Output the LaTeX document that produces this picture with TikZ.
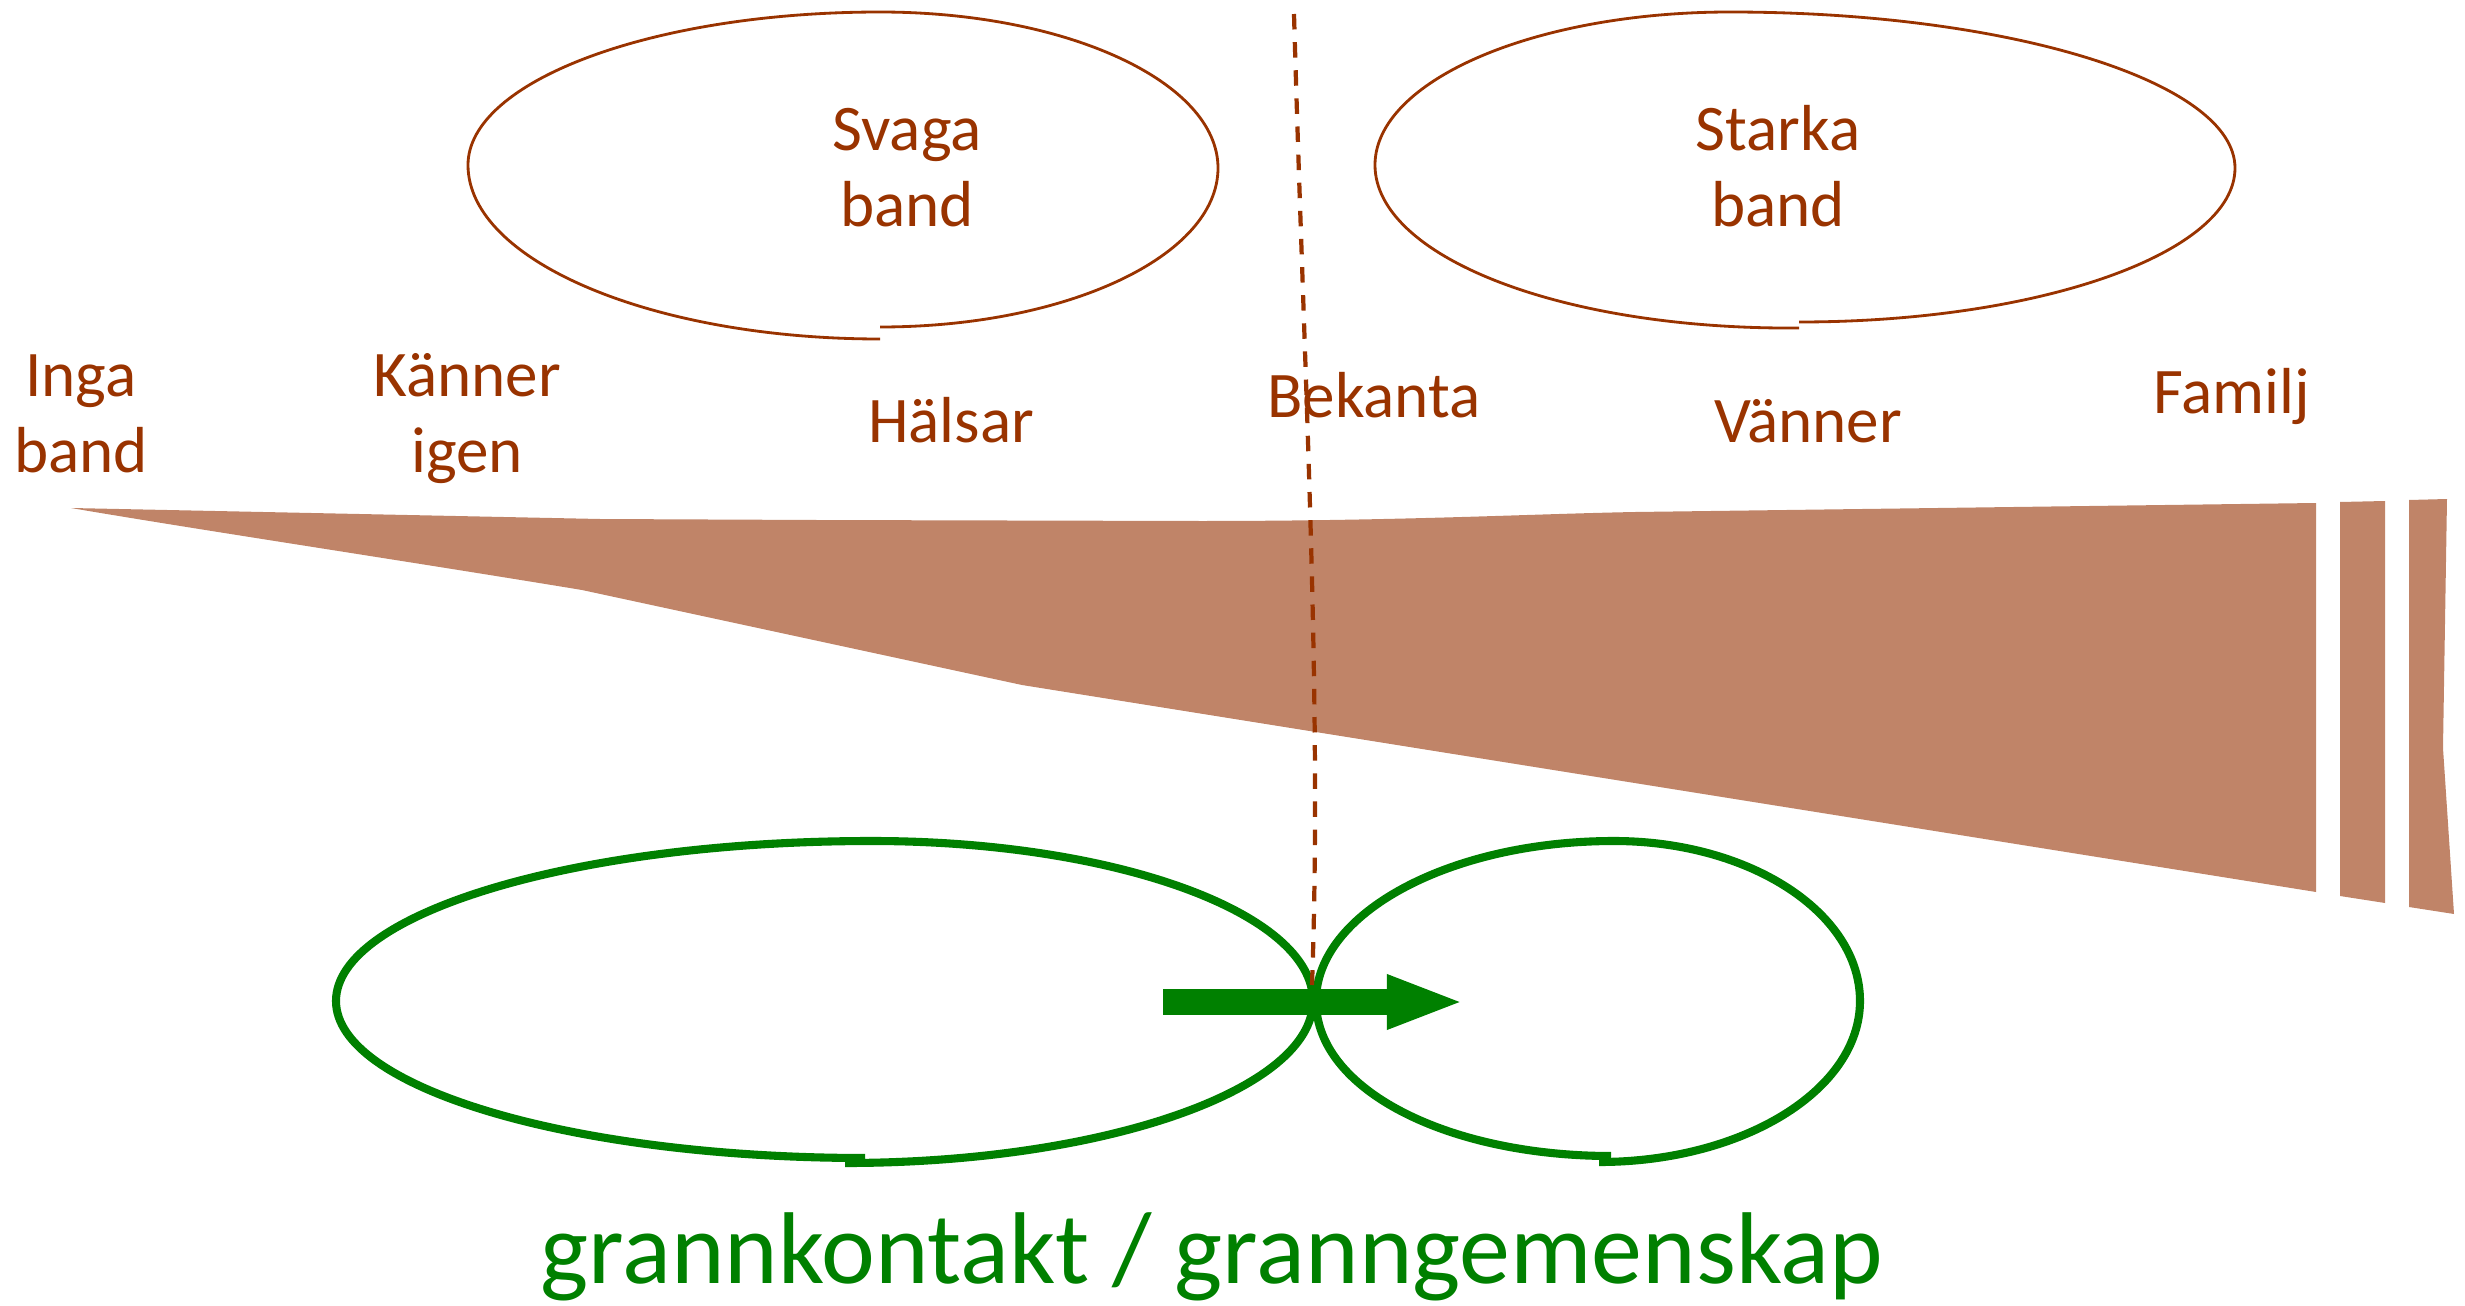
\documentclass[tikz,border=0pt]{standalone}
\usepackage{fontspec}
\setmainfont{Carlito}
\usetikzlibrary{arrows.meta}

\definecolor{bandbrown}{HTML}{993300}
\definecolor{wedgebrown}{HTML}{C08468}
\definecolor{grangreen}{HTML}{008000}

\tikzset{
  tielabel/.style={text=bandbrown,font=\fontsize{18.5}{21.5}\selectfont,
    align=center,anchor=base,inner sep=0pt},
  tiering/.style={draw=bandbrown,line width=0.8pt},
  greenring/.style={draw=grangreen,line width=2.3pt},
}

\begin{document}
\begin{tikzpicture}
\begin{scope}[x=0.01cm,y=-0.01cm]
\useasboundingbox (0,0) rectangle (2465,1306);

% the wedge and the family bars
\path[fill=wedgebrown]%
(71,508)--(600,519)--(817,520)--(1200,521)
.. controls (1400,521) and (1530,514) .. (1635,512)--(2316,503)
--(2316,892)--(1022,685)--(582,590)
.. controls (400,560) and (200,530) .. (71,508)--cycle;
\path[fill=wedgebrown]%
(2340,502)--(2385,501)--(2385,903)--(2340,896)--cycle;
\path[fill=wedgebrown]%
(2409,500)--(2447,499)--(2443,748)--(2454,914)--(2409,907)--cycle;

% weak and strong ties
\path[tiering]%
(880,327) .. controls (1067,327) and (1218,256) .. (1218,168)
.. controls (1218,82) and (1067,12) .. (880,12)
.. controls (653,12) and (468,81) .. (468,165)
.. controls (468,261) and (653,339) .. (880,339);
\path[tiering]%
(1799,322) .. controls (2040,322) and (2235,253) .. (2235,168)
.. controls (2235,82) and (2009,12) .. (1730,12)
.. controls (1534,12) and (1375,81) .. (1375,165)
.. controls (1375,256) and (1560,330) .. (1799,328);

% two-line labels sit on the baseline of their last line
\node[tielabel] (svaga)   at (907,226)  {Svaga\\band};
\node[tielabel] (starka)  at (1778,226) {Starka\\band};
\node[tielabel] (inga)    at (81,472)   {Inga\\band};
\node[tielabel] (kanner)  at (467,472)  {Känner\\igen};
\node[tielabel] (halsar)  at (951,442)  {Hälsar};
\node[tielabel] (bekanta) at (1374,417) {Bekanta};
\node[tielabel] (vanner)  at (1808,442) {Vänner};
\node[tielabel] (familj)  at (2232,413) {Familj};

% neighbourhood rings
\path[greenring]%
(845,1163) .. controls (1103,1163) and (1313,1090) .. (1313,1001)
.. controls (1313,913) and (1115,841) .. (872,841)
.. controls (576,841) and (336,913) .. (336,1001)
.. controls (336,1088) and (573,1158) .. (865,1158);
\path[greenring]%
(1599,1162) .. controls (1743,1162) and (1860,1090) .. (1860,1001)
.. controls (1860,913) and (1750,841) .. (1614,841)
.. controls (1450,841) and (1316,913) .. (1316,1001)
.. controls (1316,1090) and (1448,1156) .. (1611,1156);

\coordinate (divtop) at (1294,14);
\coordinate (divbot) at (1312,985);
\draw[bandbrown,line width=1.2pt,dash pattern=on 4.4pt off 3.6pt]%
(divtop) .. controls (1305,400) and (1322,700) .. (divbot);

\coordinate (pushfrom) at (1163,1002);
\coordinate (pushto)   at (1465,1002);
\draw[grangreen,line width=0.25cm,-{Triangle[length=7.8mm,width=4.9mm]}]%
(pushfrom) -- (pushto);

\node[text=grangreen,font=\fontsize{29}{33}\selectfont,anchor=base,inner sep=0pt]%
(grann) at (1212,1283) {grannkontakt / granngemenskap};

\end{scope}
\end{tikzpicture}
\end{document}
